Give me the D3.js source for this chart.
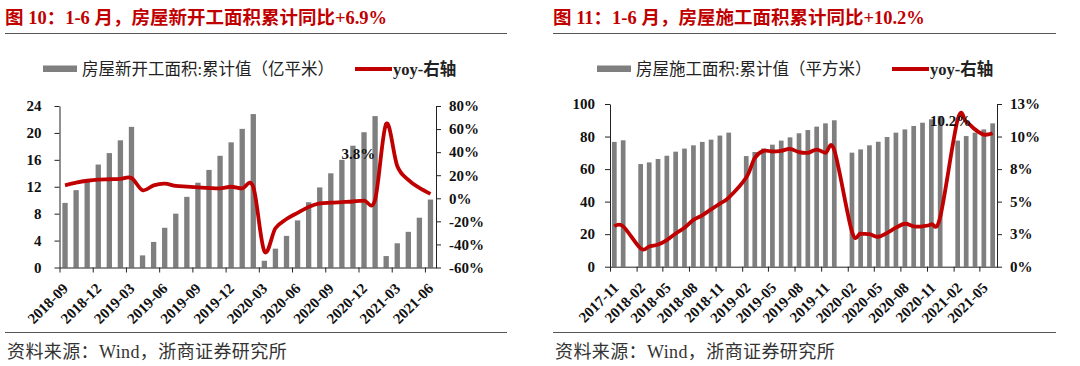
<!DOCTYPE html>
<html>
<head>
<meta charset="utf-8" />
<title>房屋新开工面积 / 房屋施工面积</title>
<script src="https://cdn.jsdelivr.net/npm/d3@7"></script>
<style>
    body { margin: 0; background: #fff; }
    text { font-family: "Liberation Serif", "Times New Roman", "Noto Sans CJK SC", serif; }
</style>
</head>
<body>
<svg id="chart" width="1080" height="366"></svg>
<script>
// ---- 图10: 房屋新开工面积 (category axis, one bar per release) ----
var startMonths = ["2018-06", "2018-07", "2018-08", "2018-09", "2018-10", "2018-11", "2018-12",
    "2019-02", "2019-03", "2019-04", "2019-05", "2019-06", "2019-07", "2019-08", "2019-09", "2019-10", "2019-11", "2019-12",
    "2020-02", "2020-03", "2020-04", "2020-05", "2020-06", "2020-07", "2020-08", "2020-09", "2020-10", "2020-11", "2020-12",
    "2021-02", "2021-03", "2021-04", "2021-05", "2021-06"];
var startArea = [9.6, 11.5, 12.9, 15.3, 17.0, 18.9, 20.9,
    1.8, 3.8, 5.9, 8.0, 10.5, 12.6, 14.5, 16.6, 18.6, 20.6, 22.8,
    1.0, 2.8, 4.7, 7.0, 9.7, 11.9, 14.0, 16.0, 18.1, 20.1, 22.5,
    1.7, 3.6, 5.3, 7.4, 10.1];
var startYoy = [11.2, 13.5, 15.2, 16.2, 16.5, 16.8, 17.6,
    7.0, 11.2, 12.7, 10.7, 10.1, 9.5, 8.9, 8.6, 10.0, 8.6, 9.8,
    -45.9, -26.0, -18.0, -12.6, -7.5, -4.5, -3.8, -3.3, -2.8, -2.0, -1.2,
    64.5, 28.0, 16.0, 9.0, 3.8];
var startTicks = ["2018-09", "2018-12", "2019-03", "2019-06", "2019-09", "2019-12",
    "2020-03", "2020-06", "2020-09", "2020-12", "2021-03", "2021-06"];
var startLeftTicks = [0, 4, 8, 12, 16, 20, 24];
var startRightTicks = [-60, -40, -20, 0, 20, 40, 60, 80];

// ---- 图11: 房屋施工面积 (date axis, January missing) ----
var buildMonths = ["2017-11", "2017-12",
    "2018-02", "2018-03", "2018-04", "2018-05", "2018-06", "2018-07", "2018-08", "2018-09", "2018-10", "2018-11", "2018-12",
    "2019-02", "2019-03", "2019-04", "2019-05", "2019-06", "2019-07", "2019-08", "2019-09", "2019-10", "2019-11", "2019-12",
    "2020-02", "2020-03", "2020-04", "2020-05", "2020-06", "2020-07", "2020-08", "2020-09", "2020-10", "2020-11", "2020-12",
    "2021-02", "2021-03", "2021-04", "2021-05", "2021-06"];
var buildArea = [76.7, 77.7,
    63.1, 64.1, 66.2, 68.2, 70.7, 72.6, 74.6, 76.7, 78.1, 80.6, 82.4,
    68.0, 70.5, 72.7, 75.0, 77.5, 79.5, 82.0, 84.0, 86.1, 88.1, 90.0,
    70.1, 72.1, 74.6, 76.8, 79.7, 82.4, 84.4, 86.5, 88.5, 90.6, 92.6,
    77.5, 80.3, 82.4, 84.4, 88.1];
var buildYoy = [3.1, 3.1,
    1.4, 1.55, 1.7, 2.05, 2.55, 3.0, 3.6, 3.95, 4.4, 4.85, 5.3,
    6.85, 8.35, 8.9, 8.85, 8.9, 9.05, 8.8, 8.75, 9.0, 8.75, 8.95,
    2.7, 2.55, 2.5, 2.3, 2.6, 3.0, 3.3, 3.1, 3.1, 3.25, 3.8,
    11.3, 11.15, 10.55, 10.15, 10.25];
var buildTicks = ["2017-11", "2018-02", "2018-05", "2018-08", "2018-11", "2019-02", "2019-05", "2019-08",
    "2019-11", "2020-02", "2020-05", "2020-08", "2020-11", "2021-02", "2021-05"];
var buildLeftTicks = [0, 20, 40, 60, 80, 100];
var buildRightTicks = [0, 2.5, 5, 7.5, 10, 12.5];

var barColor = "#7f7f7f",
    lineColor = "#c00000",
    titleColor = "#c00000";

var svg = d3.select("#chart");
var parseMonth = d3.timeParse("%Y-%m");

// kop, lijnen en bron
function frame(x0, x1, title) {
    svg.append("text")
        .attr("x", x0).attr("y", 24)
        .attr("fill", titleColor)
        .attr("font-size", 18.5).attr("font-weight", "bold")
        .text(title);
    svg.append("line")
        .attr("x1", x0).attr("x2", x1).attr("y1", 33.5).attr("y2", 33.5)
        .attr("stroke", "#555").attr("stroke-width", 1.2);
    svg.append("line")
        .attr("x1", x0).attr("x2", x1).attr("y1", 332.5).attr("y2", 332.5)
        .attr("stroke", "#555").attr("stroke-width", 1.2);
    svg.append("text")
        .attr("x", x0 + 2).attr("y", 358)
        .attr("fill", "#333").attr("font-size", 18).attr("letter-spacing", 0.4)
        .text("资料来源：Wind，浙商证券研究所");
}

function legend(swatchX, lineX, barName) {
    svg.append("rect")
        .attr("x", swatchX).attr("y", 65.5).attr("width", 34).attr("height", 6.5)
        .attr("fill", barColor);
    svg.append("text")
        .attr("x", swatchX + 39).attr("y", 75)
        .attr("font-size", 16.5).attr("fill", "#222")
        .text(barName);
    svg.append("line")
        .attr("x1", lineX).attr("x2", lineX + 37).attr("y1", 69).attr("y2", 69)
        .attr("stroke", lineColor).attr("stroke-width", 4);
    svg.append("text")
        .attr("x", lineX + 38).attr("y", 75)
        .attr("font-size", 16.5).attr("font-weight", "bold").attr("fill", "#222")
        .text("yoy-右轴");
}

function styleAxis(g, size) {
    g.select(".domain").attr("stroke", "#222");
    g.selectAll(".tick line").attr("stroke", "#222");
    g.selectAll("text")
        .attr("font-family", "\"Liberation Serif\", \"Times New Roman\", serif")
        .attr("font-weight", "bold")
        .attr("font-size", size)
        .attr("fill", "#111");
}

function xLabels(g) {
    g.selectAll(".tick text")
        .attr("x", 0).attr("y", 0).attr("dy", 0)
        .attr("text-anchor", "end")
        .attr("transform", "translate(9,22) rotate(-45)");
}

// ---------------- 图10 ----------------
frame(5, 507, "图 10：1-6 月，房屋新开工面积累计同比+6.9%");
legend(43, 355, "房屋新开工面积:累计值（亿平米）");

var top1 = 106, bottom1 = 267.5;
var xIdx = d3.scaleLinear().domain([0, startMonths.length]).range([59.5, 436]);
var yArea1 = d3.scaleLinear().domain([0, 24]).range([bottom1, top1]);
var yYoy1 = d3.scaleLinear().domain([-60, 80]).range([bottom1, top1]);
var barW1 = (xIdx(1) - xIdx(0)) * 0.48;

svg.append("g").selectAll("rect")
    .data(startArea)
    .enter().append("rect")
    .attr("x", function (d, i) { return xIdx(i + 0.5) - barW1 / 2; })
    .attr("y", function (d) { return yArea1(d); })
    .attr("width", barW1)
    .attr("height", function (d) { return bottom1 - yArea1(d); })
    .attr("fill", barColor);

var gx1 = svg.append("g")
    .attr("transform", "translate(0," + bottom1 + ")")
    .call(d3.axisBottom(xIdx)
        .tickValues(d3.range(0, startMonths.length, 3))
        .tickFormat(function (d, i) { return startTicks[i]; })
        .tickSize(5).tickSizeOuter(0));
styleAxis(gx1, 15);
xLabels(gx1);

var gyl1 = svg.append("g")
    .attr("transform", "translate(" + xIdx(0) + ",0)")
    .call(d3.axisLeft(yArea1).tickValues(startLeftTicks).tickSize(5).tickPadding(13).tickSizeOuter(0));
styleAxis(gyl1, 15);

var gyr1 = svg.append("g")
    .attr("transform", "translate(" + xIdx(startMonths.length) + ",0)")
    .call(d3.axisRight(yYoy1).tickValues(startRightTicks).tickSize(5).tickPadding(8)
        .tickSizeOuter(0).tickFormat(function (d) { return d + "%"; }));
styleAxis(gyr1, 15);

var line1 = d3.line()
    .x(function (d, i) { return xIdx(i + 0.5); })
    .y(function (d) { return yYoy1(d); })
    .curve(d3.curveCatmullRom.alpha(0));

svg.append("path")
    .datum(startYoy)
    .attr("fill", "none")
    .attr("stroke", lineColor)
    .attr("stroke-width", 3.8)
    .attr("stroke-linejoin", "round")
    .attr("d", line1);

// datalabel
svg.append("text")
    .attr("x", xIdx(27)).attr("y", yYoy1(34))
    .attr("text-anchor", "middle")
    .attr("font-size", 15).attr("font-weight", "bold").attr("fill", "#111")
    .text("3.8%");

// ---------------- 图11 ----------------
frame(553, 1056, "图 11：1-6 月，房屋施工面积累计同比+10.2%");
legend(597, 892, "房屋施工面积:累计值（平方米）");

var top2 = 104, bottom2 = 266.7;
var buildDates = buildMonths.map(parseMonth);
var xTime = d3.scaleTime()
    .domain([parseMonth("2017-11"), parseMonth("2021-07")])
    .range([610, 997]);
var yArea2 = d3.scaleLinear().domain([0, 100]).range([bottom2, top2]);
var yYoy2 = d3.scaleLinear().domain([0, 12.5]).range([bottom2, top2]);

function monthMid(date) {
    return (xTime(date) + xTime(d3.timeMonth.offset(date, 1))) / 2;
}
var barW2 = 4.7;

svg.append("g").selectAll("rect")
    .data(buildArea)
    .enter().append("rect")
    .attr("x", function (d, i) { return monthMid(buildDates[i]) - barW2 / 2; })
    .attr("y", function (d) { return yArea2(d); })
    .attr("width", barW2)
    .attr("height", function (d) { return bottom2 - yArea2(d); })
    .attr("fill", barColor);

var gx2 = svg.append("g")
    .attr("transform", "translate(0," + bottom2 + ")")
    .call(d3.axisBottom(xTime)
        .tickValues(buildTicks.map(parseMonth))
        .tickFormat(d3.timeFormat("%Y-%m"))
        .tickSize(5).tickSizeOuter(0));
styleAxis(gx2, 15);
xLabels(gx2);

var gyl2 = svg.append("g")
    .attr("transform", "translate(610,0)")
    .call(d3.axisLeft(yArea2).tickValues(buildLeftTicks).tickSize(5).tickPadding(10).tickSizeOuter(0));
styleAxis(gyl2, 15);

var gyr2 = svg.append("g")
    .attr("transform", "translate(997,0)")
    .call(d3.axisRight(yYoy2).tickValues(buildRightTicks).tickSize(5).tickPadding(8)
        .tickSizeOuter(0).tickFormat(function (d) { return Math.round(d) + "%"; }));
styleAxis(gyr2, 15);

var line2 = d3.line()
    .x(function (d, i) { return monthMid(buildDates[i]); })
    .y(function (d) { return yYoy2(d); })
    .curve(d3.curveCatmullRom.alpha(0));

svg.append("path")
    .datum(buildYoy)
    .attr("fill", "none")
    .attr("stroke", lineColor)
    .attr("stroke-width", 3.8)
    .attr("stroke-linejoin", "round")
    .attr("d", line2);

svg.append("text")
    .attr("x", xTime(parseMonth("2021-01")) + 6).attr("y", yYoy2(10.8))
    .attr("text-anchor", "middle")
    .attr("font-size", 15).attr("font-weight", "bold").attr("fill", "#111")
    .text("10.2%");
</script>
</body>
</html>
